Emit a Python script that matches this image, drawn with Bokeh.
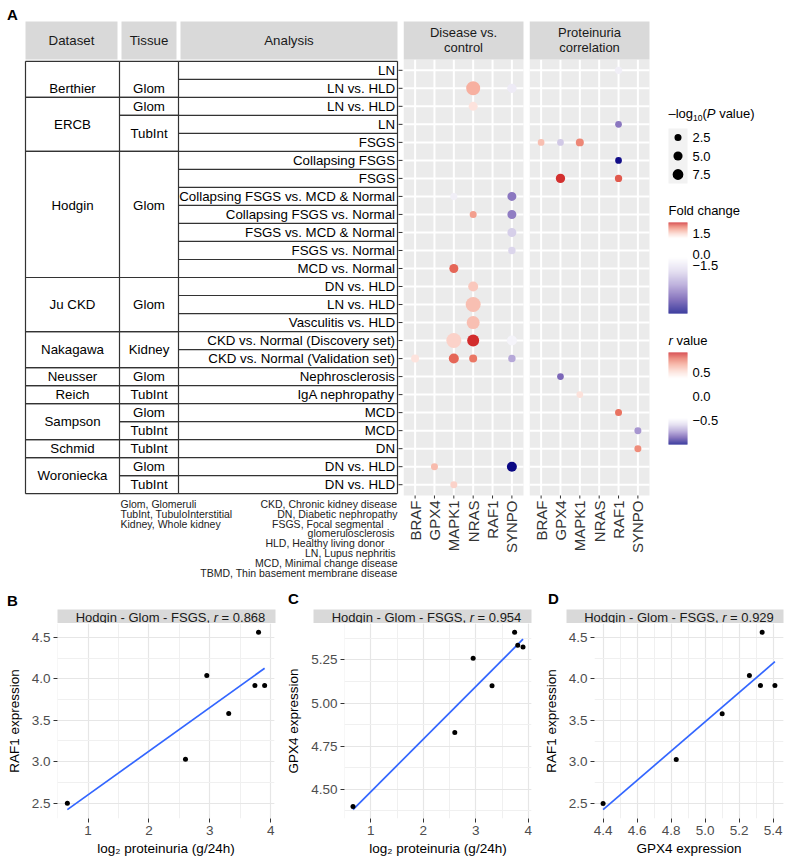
import math
import numpy as np
from bokeh.plotting import figure
from bokeh.layouts import row, column
from bokeh.models import Range1d, SingleIntervalTicker, NumeralTickFormatter
from bokeh.core.properties import value
from bokeh.embed import file_html
from bokeh.resources import INLINE

FONT = "Liberation Sans"

# ------------------------------------------------------------------ data (A)
datasets = (["Berthier"] * 2 + ["ERCB"] * 3 + ["Hodgin"] * 7 + ["Ju CKD"] * 3 +
            ["Nakagawa"] * 2 + ["Neusser", "Reich", "Sampson", "Sampson", "Schmid",
                                "Woroniecka", "Woroniecka"])
tissues = (["Glom", "Glom", "Glom", "TubInt", "TubInt"] + ["Glom"] * 7 + ["Glom"] * 3 +
           ["Kidney"] * 2 + ["Glom", "TubInt", "Glom", "TubInt", "TubInt", "Glom", "TubInt"])
analyses = ["LN", "LN vs. HLD", "LN vs. HLD", "LN", "FSGS", "Collapsing FSGS", "FSGS",
            "Collapsing FSGS vs. MCD & Normal", "Collapsing FSGS vs. Normal",
            "FSGS vs. MCD & Normal", "FSGS vs. Normal", "MCD vs. Normal", "DN vs. HLD",
            "LN vs. HLD", "Vasculitis vs. HLD", "CKD vs. Normal (Discovery set)",
            "CKD vs. Normal (Validation set)", "Nephrosclerosis", "IgA nephropathy",
            "MCD", "MCD", "DN", "DN vs. HLD", "DN vs. HLD"]
header_labels = ["Dataset", "Tissue", "Analysis"]
genes = ["BRAF", "GPX4", "MAPK1", "NRAS", "RAF1", "SYNPO"]
panel_titles = ["Disease vs.\ncontrol", "Proteinuria\ncorrelation"]

# Disease vs. control (fold change)
fc_rows = [2, 2, 3, 8, 8, 9, 9, 10, 11, 12, 13, 14, 15, 16, 16, 16, 17, 17, 17, 17, 23, 23, 24]
fc_genes = ["NRAS", "SYNPO", "NRAS", "MAPK1", "SYNPO", "NRAS", "SYNPO", "SYNPO", "SYNPO",
            "MAPK1", "NRAS", "NRAS", "NRAS", "MAPK1", "NRAS", "SYNPO", "BRAF", "MAPK1",
            "NRAS", "SYNPO", "GPX4", "SYNPO", "MAPK1"]
fc_values = [0.91, -0.43, 0.38, -0.36, -2.16, 1.05, -2.09, -1.0, -0.9, 1.48, 0.67, 0.76,
             0.76, 0.57, 1.8, -0.25, 0.38, 1.48, 1.37, -1.55, 0.8, -3.5, 0.57]
fc_logp = [14.1, 5.2, 4.8, 2.44, 4.8, 2.44, 4.8, 4.8, 2.95, 4.8, 6.25, 16.5, 11.8, 16.5,
           9.8, 6.25, 3.5, 6.25, 3.5, 2.95, 2.44, 6.25, 2.44]

# Proteinuria correlation (r value)
r_rows = [1, 4, 5, 5, 5, 6, 7, 7, 18, 19, 20, 21, 22]
r_genes = ["RAF1", "RAF1", "BRAF", "GPX4", "MAPK1", "RAF1", "GPX4", "RAF1", "GPX4",
           "MAPK1", "RAF1", "SYNPO", "SYNPO"]
r_values = [-0.1, -0.6, 0.37, -0.3, 0.6, -0.95, 0.86, 0.75, -0.65, 0.2, 0.68, -0.5, 0.58]
r_logp = [2.74, 2.16, 2.16, 2.16, 3.52, 2.16, 5.2, 2.74, 2.16, 2.16, 2.44, 2.44, 2.44]

fc_limits = (-3.6, 1.9)
r_limits = (-1.0, 0.92)
fc_tick_labels = ["1.5", "0.0", "\u22121.5"]
r_tick_labels = ["0.5", "0.0", "\u22120.5"]
size_breaks = [2.5, 5.0, 7.5]
size_labels = ["2.5", "5.0", "7.5"]

glossary_left = ["Glom, Glomeruli", "TubInt, TubuloInterstitial", "Kidney, Whole kidney"]
glossary_right = ["CKD, Chronic kidney disease", "DN, Diabetic nephropathy",
                  "FSGS, Focal segmental", "glomerulosclerosis", "HLD, Healthy living donor",
                  "LN, Lupus nephritis", "MCD, Minimal change disease",
                  "TBMD, Thin basement membrane disease"]

# ------------------------------------------------------------------ data (B-D)
log2_proteinuria = [0.66, 2.60, 2.95, 3.31, 3.74, 3.80, 3.90]
raf1_expr = [2.50, 3.03, 4.04, 3.58, 3.92, 4.56, 3.92]
gpx4_expr = [4.40, 4.83, 5.26, 5.10, 5.41, 5.335, 5.325]
strip_prefix = "Hodgin - Glom - FSGS,"
r_strings = ["0.868", "0.954", "0.929"]
panel_letters = ["B", "C", "D"]

# ------------------------------------------------------------------ helpers
RED_STOPS = [(0, "#FFFFFF"), (0.25, "#FCDCD4"), (0.5, "#F6AC9B"), (0.75, "#E8705E"), (1, "#CC1A1F")]
BLUE_STOPS = [(0, "#FFFFFF"), (0.25, "#DCD6EC"), (0.5, "#A796D0"), (0.75, "#6048A8"), (1, "#000080")]


def _rgb(h):
    return [int(h[i:i + 2], 16) for i in (1, 3, 5)]


def _interp(stops, t):
    t = max(0.0, min(1.0, t))
    for (t0, c0), (t1, c1) in zip(stops[:-1], stops[1:]):
        if t <= t1:
            f = (t - t0) / (t1 - t0)
            a, b = _rgb(c0), _rgb(c1)
            return "#%02X%02X%02X" % tuple(int(round(a[k] + f * (b[k] - a[k]))) for k in range(3))
    return stops[-1][1]


def colour(v, lim):
    vmin, vmax = lim
    if v >= 0:
        return _interp(RED_STOPS, v / vmax)
    return _interp(BLUE_STOPS, v / vmin)


def dot_size(v):
    return 2 + 3.2 * math.sqrt(v)


W = {' ': 278, '-': 333, ',': 278, '.': 278, '=': 584, '(': 333, ')': 333, '\u2013': 556,
     'a': 556, 'b': 556, 'c': 500, 'd': 556, 'e': 556, 'f': 278, 'g': 556, 'h': 556, 'i': 222,
     'j': 222, 'k': 500, 'l': 222, 'm': 833, 'n': 556, 'o': 556, 'p': 556, 'q': 556, 'r': 333,
     's': 500, 't': 278, 'u': 556, 'v': 500, 'w': 722, 'x': 500, 'y': 500, 'z': 500,
     'F': 611, 'G': 778, 'H': 722, 'P': 667, 'S': 667}


def tw(s, px):
    return sum(W.get(c, 556) for c in s) * px / 1000.0


def txt(p, xs, ys, texts, size="13px", align="left", color="black", style="normal",
        baseline="middle", angle=0.0):
    p.text(x=list(xs), y=list(ys), text=list(texts), text_font=value(FONT),
           text_font_size=size, text_align=align, text_baseline=baseline,
           text_color=color, text_font_style=style, angle=angle)


def canvas(width, height, xr, yr):
    p = figure(width=width, height=height, x_range=xr, y_range=yr, toolbar_location=None,
               output_backend="svg", min_border=0, x_axis_location=None,
               y_axis_location=None, outline_line_color=None)
    p.grid.visible = False
    return p


# vertical geometry shared by the table and the dot panels (page px -> row units)
TOP_H = 580
PANEL_TOP = 59.0
ROW_PX = 436 / 24.2
TFS = "13.3px"


def row_of(py):
    return 0.4 + (py - PANEL_TOP) / ROW_PX


rows = list(range(1, len(analyses) + 1))
NR = len(analyses)
NG = len(genes)


def runs(keys):
    out, start = [], 0
    for i in range(1, len(keys) + 1):
        if i == len(keys) or keys[i] != keys[start]:
            out.append((keys[start], start + 1, i))
            start = i
    return out


# ------------------------------------------------------------------ table figure
tab = canvas(403, TOP_H, Range1d(0, 403), Range1d(row_of(TOP_H), row_of(0)))

X_L, X_DS, X_TS, X_R = 25, 119, 178, 397
hdr_l, hdr_r = [25, 121, 180], [117, 176, 397]
tab.quad(left=hdr_l, right=hdr_r, top=[row_of(21)] * 3, bottom=[row_of(59)] * 3,
         fill_color="#D9D9D9", line_color=None)
txt(tab, [(a + b) / 2 for a, b in zip(hdr_l, hdr_r)], [row_of(39.5)] * 3, header_labels,
    size=TFS, align="center", color="#1A1A1A")

ds_runs = runs(datasets)
ts_runs = runs(list(zip(datasets, tissues)))
hx0, hx1, hy = [], [], []
for r in range(NR + 1):
    hx0.append(X_TS); hx1.append(X_R); hy.append(r + 0.5)
for _, s, e in ts_runs:
    for b in (s - 0.5, e + 0.5):
        hx0.append(X_DS); hx1.append(X_TS); hy.append(b)
for _, s, e in ds_runs:
    for b in (s - 0.5, e + 0.5):
        hx0.append(X_L); hx1.append(X_DS); hy.append(b)
tab.segment(x0=hx0, x1=hx1, y0=hy, y1=hy, line_color="#333333", line_width=1.2)
vx = [X_L, X_DS, X_TS, X_R]
tab.segment(x0=vx, x1=vx, y0=[0.5] * 4, y1=[NR + 0.5] * 4,
            line_color="#333333", line_width=1.2)
# y-axis ticks of the dot plot
tab.segment(x0=[398] * NR, x1=[402] * NR, y0=rows, y1=rows,
            line_color="#333333", line_width=1)

shift = {"Berthier": 0.5, "Hodgin": -0.5}
ds_spans = {name: (s, e) for name, s, e in ds_runs}
txt(tab, [72] * len(ds_runs), [(s + e) / 2 + shift.get(n, 0) for n, s, e in ds_runs],
    [n for n, _, _ in ds_runs], size=TFS, align="center")
ts_y = []
for (d, t), s, e in ts_runs:
    ts_y.append((s + e) / 2 + (shift.get(d, 0) if ds_spans[d] == (s, e) else 0))
txt(tab, [148.5] * len(ts_runs), ts_y, [t for (d, t), _, _ in ts_runs], size=TFS,
    align="center")
txt(tab, [394.5] * NR, rows, analyses, size=TFS, align="right")

txt(tab, [12], [row_of(14)], ["A"], size="15px", align="center", style="bold")
txt(tab, [120] * len(glossary_left), [row_of(503.5 + 9.8 * i) for i in range(len(glossary_left))],
    glossary_left, size="10.5px", color="#222222")
right_off = [-0.5, 0, -14, -3, -13, -2, 0, 0]
txt(tab, [397 + o for o in right_off],
    [row_of(503.5 + 9.8 * i) for i in range(len(glossary_right))],
    glossary_right, size="10.5px", align="right", color="#222222")

# ------------------------------------------------------------------ dot panels
UNIT_X = 120 / (NG + 0.2)


def dot_panel(title, prow, pgenes, pvals, plogp, lim, width):
    p = canvas(width, TOP_H, Range1d(0.4, 0.4 + width / UNIT_X),
               Range1d(row_of(TOP_H), row_of(0)))
    gx = list(range(1, NG + 1))
    p.quad(left=[0.4], right=[NG + 0.6], top=[0.4], bottom=[NR + 0.6],
           fill_color="#EBEBEB", line_color=None)
    p.segment(x0=gx, x1=gx, y0=[0.4] * NG, y1=[NR + 0.6] * NG,
              line_color="white", line_width=2)
    p.segment(x0=[0.4] * NR, x1=[NG + 0.6] * NR, y0=rows, y1=rows,
              line_color="white", line_width=2)
    p.quad(left=[0.4], right=[NG + 0.6], top=[row_of(21)], bottom=[0.4],
           fill_color="#D9D9D9", line_color=None)
    lines = title.split("\n")
    txt(p, [(NG + 1) / 2] * len(lines), [row_of(31.7 + 15 * i) for i in range(len(lines))],
        lines, align="center", color="#1A1A1A")
    # x-axis ticks and gene labels
    p.segment(x0=gx, x1=gx, y0=[NR + 0.6] * NG, y1=[row_of(498)] * NG,
              line_color="#333333", line_width=1)
    txt(p, gx, [row_of(500)] * NG, genes, size="15px", align="right", color="#333333",
        angle=math.pi / 2)
    p.scatter(x=[genes.index(g) + 1 for g in pgenes], y=prow,
              size=[dot_size(v) for v in plogp],
              fill_color=[colour(v, lim) for v in pvals], line_color=None)
    return p


p1 = dot_panel(panel_titles[0], fc_rows, fc_genes, fc_values, fc_logp, fc_limits, 126)
p2 = dot_panel(panel_titles[1], r_rows, r_genes, r_values, r_logp, r_limits, 130)

# ------------------------------------------------------------------ legends
leg = canvas(135, TOP_H, Range1d(659, 794), Range1d(TOP_H, 0))
LX = 668
x = LX
parts = [("\u2013log", 113, "13px", "normal"), ("10", 117, "8.5px", "normal"),
         ("(", 113, "13px", "normal"), ("P", 113, "13px", "italic")]
for s, yy, fs, st in parts:
    txt(leg, [x], [yy], [s], size=fs, style=st)
    x += tw(s, float(fs[:-2]))
txt(leg, [x + tw(" ", 13)], [113], ["value)"])
leg.quad(left=[LX], right=[687], top=[128], bottom=[183], fill_color="#F2F2F2", line_color=None)
key_y = [137, 155.5, 174]
leg.scatter(x=[677.5] * 3, y=key_y, size=[dot_size(v) for v in size_breaks],
            fill_color="black", line_color=None)
txt(leg, [692] * 3, key_y, size_labels)


def colour_bar(top, white_top, white_bot, bottom, lim):
    n = int(bottom - top)
    vals = []
    for i in range(n):
        c = top + i + 0.5
        if c < white_top:
            vals.append(lim[1] * (white_top - c) / (white_top - top))
        elif c > white_bot:
            vals.append(lim[0] * (c - white_bot) / (bottom - white_bot))
        else:
            vals.append(0.0)
    leg.quad(left=[LX] * n, right=[687] * n, top=[top + i for i in range(n)],
             bottom=[top + i + 1.05 for i in range(n)],
             fill_color=[colour(v, lim) for v in vals], line_color=None)


txt(leg, [LX], [210], ["Fold change"])
colour_bar(222, 238, 257, 313, fc_limits)
txt(leg, [692] * 3, [233, 254, 265], fc_tick_labels)

txt(leg, [LX], [340], ["r"], style="italic")
txt(leg, [LX + tw("r ", 13)], [340], ["value"])
colour_bar(352, 378, 418, 444, r_limits)
txt(leg, [692] * 3, [372, 396, 420], r_tick_labels)

# ------------------------------------------------------------------ B-D strips
hdr = canvas(794, 43, Range1d(0, 794), Range1d(623, 580))
strip_l = [57, 313, 566]
strip_r = [275, 531, 783]
hdr.quad(left=strip_l, right=strip_r, top=[609] * 3, bottom=[623] * 3,
         fill_color="#D9D9D9", line_color=None)
txt(hdr, [12, 293, 553], [600, 598, 598], panel_letters, size="15px", align="center",
    style="bold")
for l, r, rs in zip(strip_l, strip_r, r_strings):
    a, c = strip_prefix, "= " + rs
    sp = tw(" ", 13)
    total = tw(a, 13) + sp + tw("r", 13) + sp + tw(c, 13)
    x0 = (l + r) / 2 + 4 - total / 2
    txt(hdr, [x0], [616.5], [a], color="#1A1A1A")
    xr = x0 + tw(a, 13) + sp
    txt(hdr, [xr], [616.5], ["r"], color="#1A1A1A", style="italic")
    txt(hdr, [xr + tw("r", 13) + sp], [616.5], [c], color="#1A1A1A")


# ------------------------------------------------------------------ scatter plots
def scatter_panel(xv, yv, width, left_b, right_b, xlab, ylab, x_step, y_step, x_fmt, y_fmt):
    xv = np.asarray(xv, dtype=float)
    yv = np.asarray(yv, dtype=float)
    slope, icpt = np.polyfit(xv, yv, 1)
    lx = np.array([xv.min(), xv.max()])
    ly = slope * lx + icpt
    x0, x1 = xv.min(), xv.max()
    dx = (x1 - x0) * 0.05
    y0, y1 = min(yv.min(), ly.min()), max(yv.max(), ly.max())
    dy = (y1 - y0) * 0.05
    p = figure(width=width, height=235, x_range=Range1d(x0 - dx, x1 + dx),
               y_range=Range1d(y0 - dy, y1 + dy), toolbar_location=None,
               output_backend="svg", min_border_left=left_b, min_border_right=right_b,
               min_border_top=0, min_border_bottom=38, outline_line_color=None,
               background_fill_color="white")
    p.xaxis.ticker = SingleIntervalTicker(interval=x_step, num_minor_ticks=2)
    p.yaxis.ticker = SingleIntervalTicker(interval=y_step, num_minor_ticks=2)
    p.xaxis.formatter = NumeralTickFormatter(format=x_fmt)
    p.yaxis.formatter = NumeralTickFormatter(format=y_fmt)
    p.xaxis.axis_label = xlab
    p.yaxis.axis_label = ylab
    for ax in (p.xaxis[0], p.yaxis[0]):
        ax.axis_line_color = None
        ax.major_tick_line_color = "#333333"
        ax.major_tick_out = 4
        ax.major_tick_in = 0
        ax.minor_tick_line_color = None
        ax.major_label_standoff = 3
        ax.major_label_text_font = FONT
        ax.major_label_text_font_size = "13.5px"
        ax.major_label_text_color = "#4D4D4D"
        ax.axis_label_text_font = FONT
        ax.axis_label_text_font_size = "13.5px"
        ax.axis_label_text_font_style = "normal"
        ax.axis_label_text_color = "black"
    p.xaxis[0].axis_label_standoff = 3
    p.yaxis[0].axis_label_standoff = 7
    for g in p.grid:
        g.grid_line_color = "#E6E6E6"
        g.grid_line_width = 1.2
        g.minor_grid_line_color = "#F0F0F0"
        g.minor_grid_line_width = 1
    p.line(lx, ly, line_color="#3366FF", line_width=1.7)
    p.scatter(xv, yv, size=5, fill_color="black", line_color=None)
    return p


XLAB = "log\u2082 proteinuria (g/24h)"
fb = scatter_panel(log2_proteinuria, raf1_expr, 283, 57, 9, XLAB, "RAF1 expression",
                   1, 0.5, "0", "0.0")
fc = scatter_panel(log2_proteinuria, gpx4_expr, 257, 57, 9, XLAB, "GPX4 expression",
                   1, 0.25, "0", "0.00")
fd = scatter_panel(gpx4_expr, raf1_expr, 254, 48, 11, "GPX4 expression", "RAF1 expression",
                   0.2, 0.5, "0.0", "0.0")

layout = column(row(tab, p1, p2, leg), hdr, row(fb, fc, fd))
open("out.html", "w").write(file_html(layout, INLINE))
